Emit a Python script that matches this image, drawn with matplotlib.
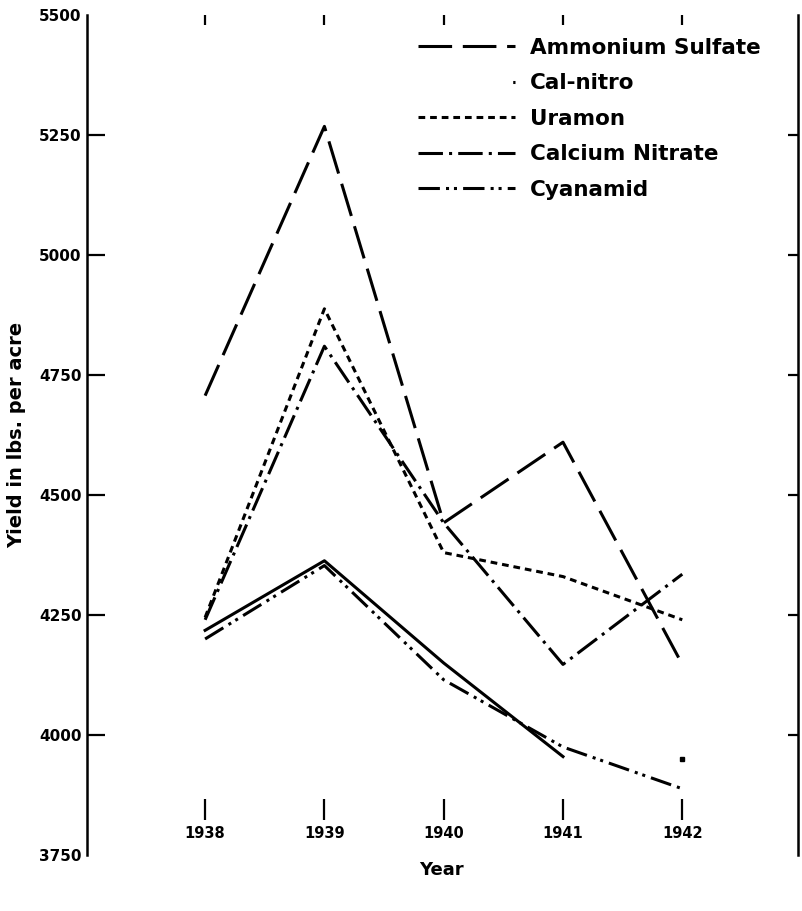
import matplotlib
matplotlib.use('Agg')
import matplotlib.pyplot as plt
from matplotlib.lines import Line2D

# data
years = [1938, 1939, 1940, 1941, 1942]
ammonium_sulfate = [4707, 5268, 4442, 4610, 4147]
cal_nitro = [4218, 4363, 4150, 3955, 3950]
uramon = [4245, 4888, 4380, 4330, 4240]
calcium_nitrate = [4240, 4810, 4442, 4147, 4335]
cyanamid = [4200, 4353, 4115, 3975, 3888]
yticks = [3750, 4000, 4250, 4500, 4750, 5000, 5250, 5500]

plt.rcParams['font.family'] = ['DejaVu Sans']

fig = plt.figure(figsize=(8.02, 9.11), dpi=100)
ax = fig.add_axes([0.1085, 0.0615, 0.8865, 0.922])

lw = 2.2
ax.plot(years, ammonium_sulfate, color='black', lw=lw, ls=(0, (11, 3.5)))
ax.plot(years[:4], cal_nitro[:4], color='black', lw=lw)
ax.plot(years[4:], cal_nitro[4:], color='black', ls='none', marker='s', ms=3)
ax.plot(years, uramon, color='black', lw=lw, ls=(0, (2.2, 1.6)))
ax.plot(years, calcium_nitrate, color='black', lw=lw, ls=(0, (8, 2, 1, 2)))
ax.plot(years, cyanamid, color='black', lw=lw, ls=(0, (7, 2, 1, 1.6, 1, 2)))

ax.set_xlim(1937.01, 1942.97)
ax.set_ylim(3750, 5500)

# frame: left and right only
ax.spines['top'].set_visible(False)
ax.spines['bottom'].set_visible(False)
ax.spines['left'].set_linewidth(1.8)
ax.spines['right'].set_linewidth(1.8)

ax.set_yticks(yticks)
ax.set_yticklabels([str(v) for v in yticks], fontweight='bold', fontsize=11)
ax.tick_params(axis='y', direction='in', length=13, width=1.6, pad=4, right=True)
for t in ax.yaxis.get_major_ticks():
    t.tick2line.set_markersize(7)
for t in (ax.yaxis.get_major_ticks()[0], ax.yaxis.get_major_ticks()[-1]):
    t.tick1line.set_visible(False)
    t.tick2line.set_visible(False)

# x axis floats inside the frame, marks sit above the year labels
ax.spines['bottom'].set_position(('data', 3822))
ax.set_xticks(years)
ax.set_xticklabels([str(y) for y in years], fontweight='bold', fontsize=10.5)
ax.tick_params(axis='x', direction='in', length=15, width=1.6, pad=4, top=True)
for t in ax.xaxis.get_major_ticks():
    t.tick2line.set_markersize(7)

ax.set_ylabel('Yield in lbs. per acre', fontweight='bold', fontsize=14, labelpad=9)
fig.text(0.55, 0.045, 'Year', ha='center', va='center', fontweight='bold', fontsize=13)

handles = [
    Line2D([], [], color='black', lw=lw, ls=(0, (11, 3.5))),
    Line2D([], [], color='black', lw=lw, ls=(20, (1, 50))),
    Line2D([], [], color='black', lw=lw, ls=(0, (2.2, 1.6))),
    Line2D([], [], color='black', lw=lw, ls=(0, (8, 2, 1, 2))),
    Line2D([], [], color='black', lw=lw, ls=(0, (7, 2, 1, 1.6, 1, 2))),
]
labels = ['Ammonium Sulfate', 'Cal-nitro', 'Uramon', 'Calcium Nitrate', 'Cyanamid']
ax.legend(handles, labels, loc='upper left', bbox_to_anchor=(0.4535, 0.983),
          frameon=False, handlelength=4.5, handletextpad=0.68,
          labelspacing=0.72, borderaxespad=0,
          prop={'family': 'DejaVu Sans', 'size': 15.5, 'weight': 'bold'})

fig.savefig('out.png', dpi=100)
